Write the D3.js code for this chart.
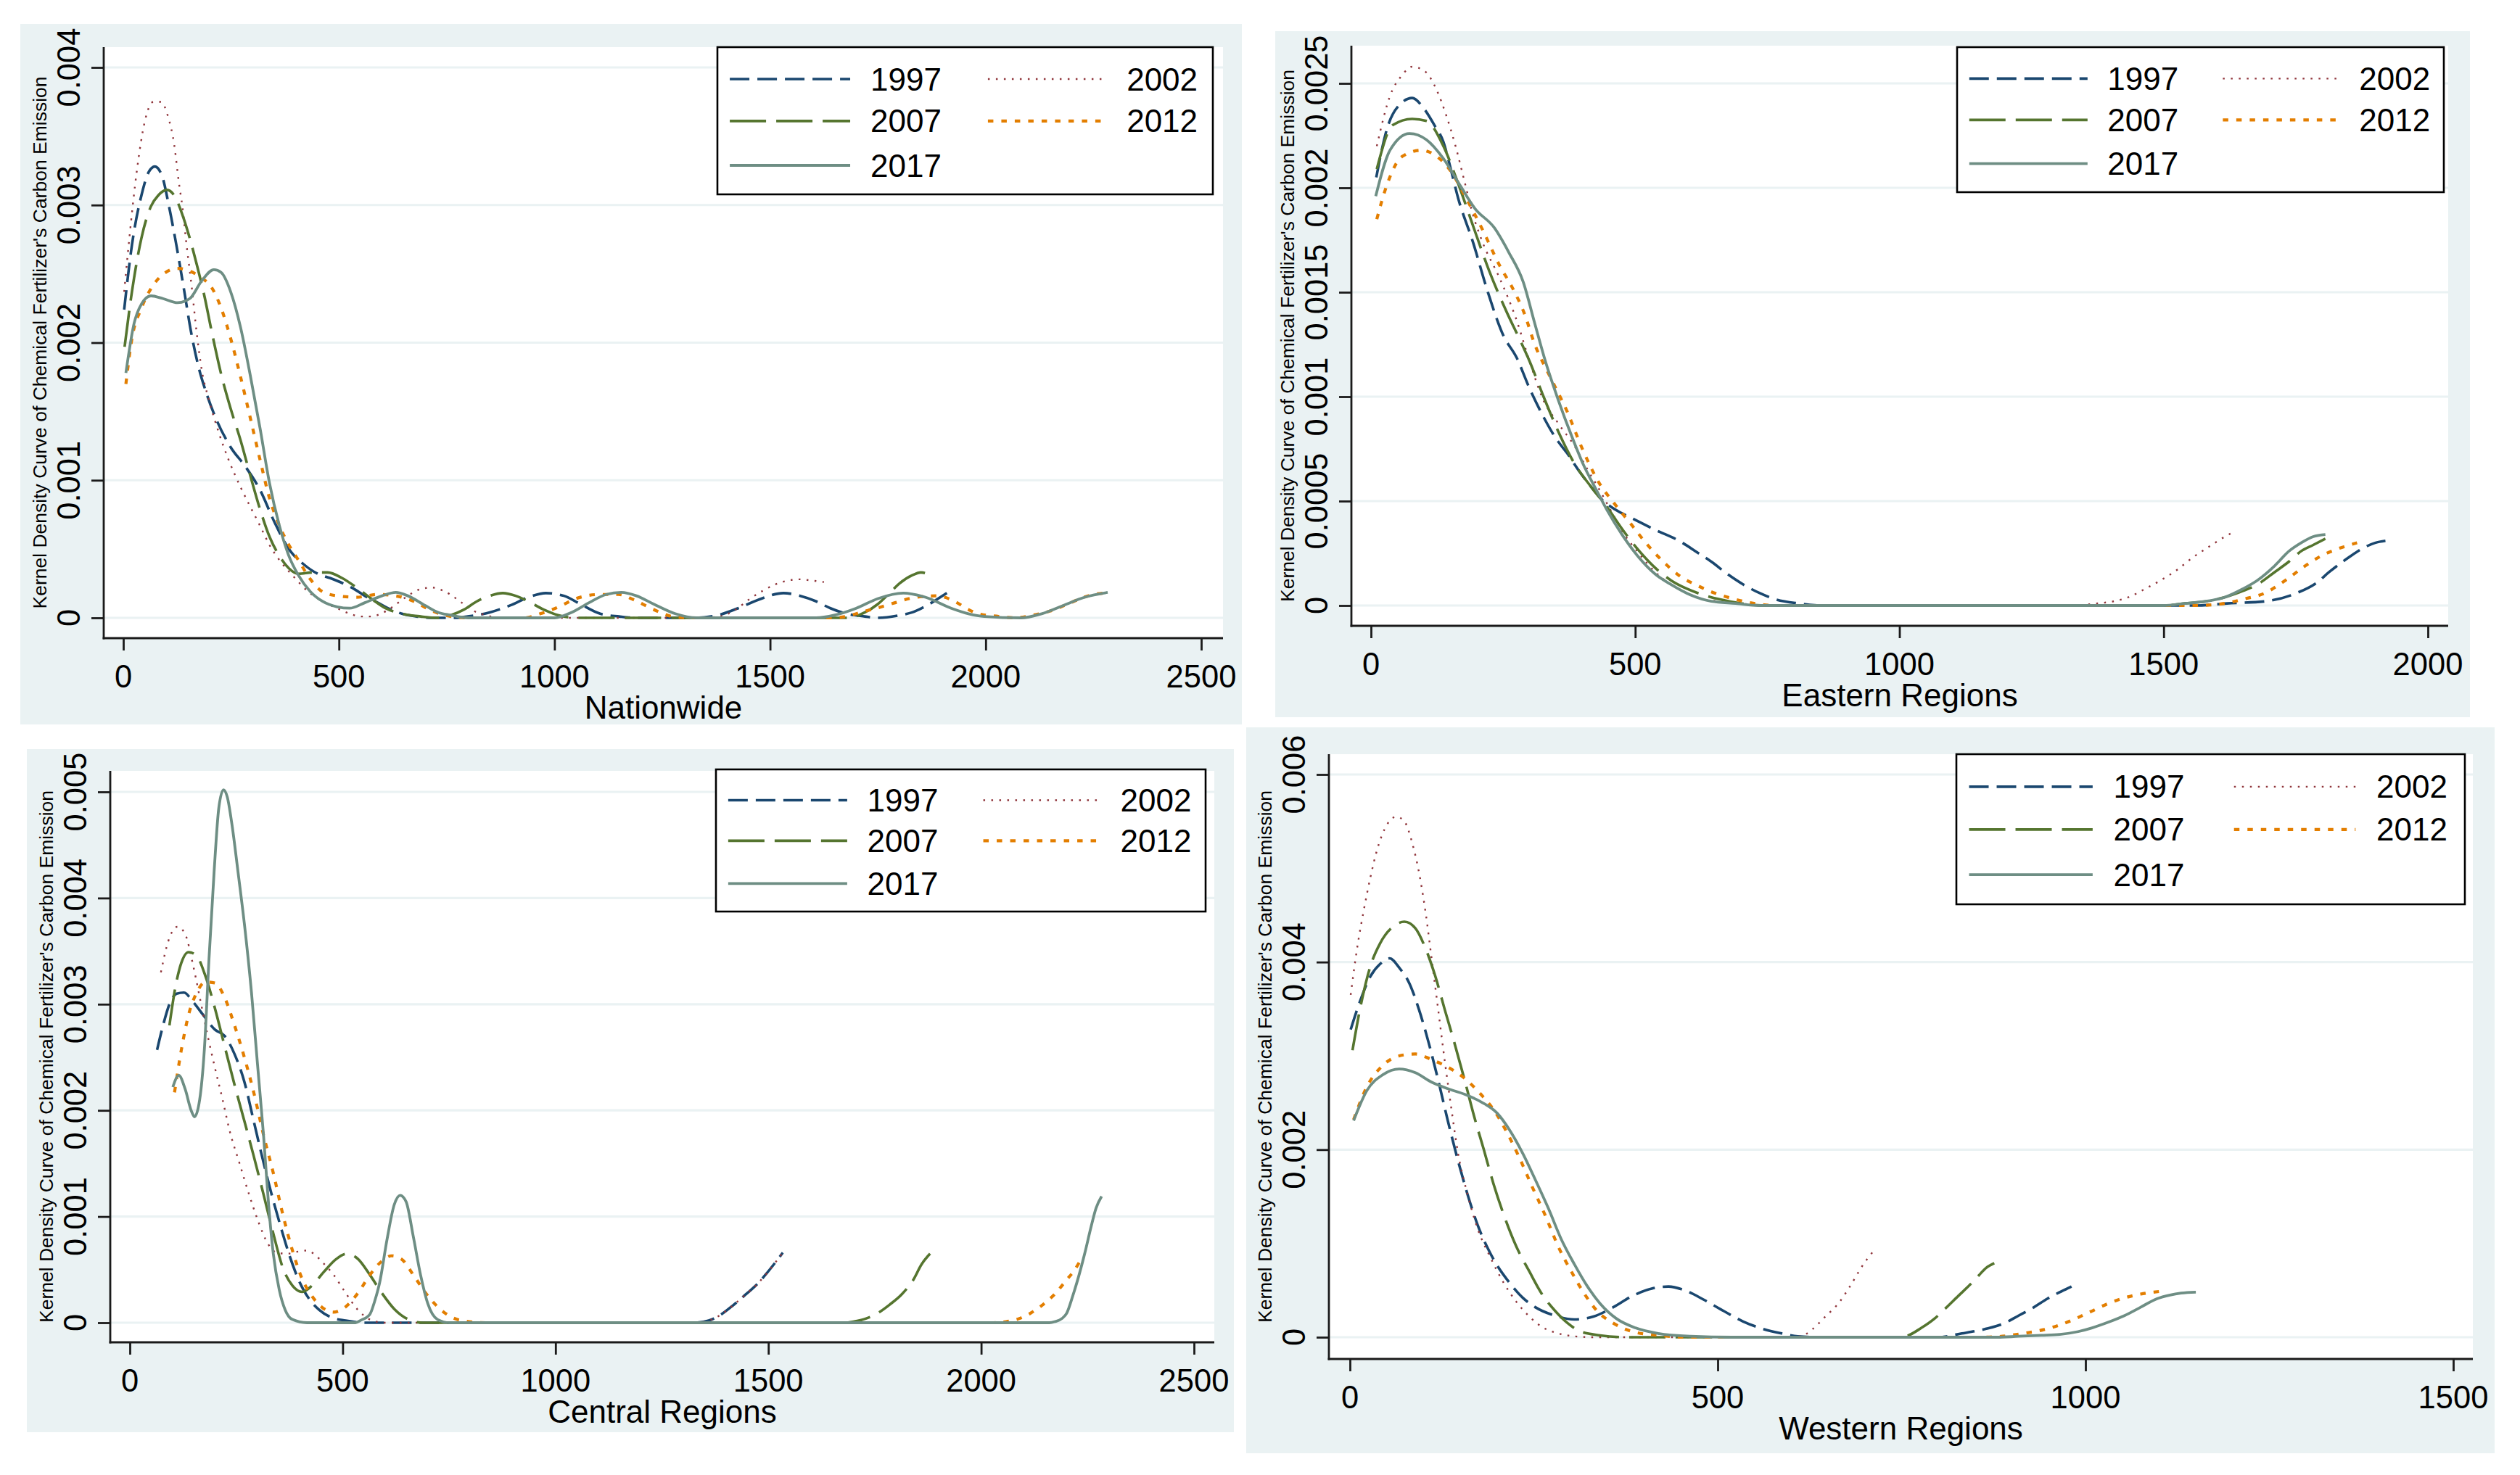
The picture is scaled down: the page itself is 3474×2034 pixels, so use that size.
<!DOCTYPE html>
<html>
<head>
<meta charset="utf-8">
<script src="https://cdn.jsdelivr.net/npm/d3@7/dist/d3.min.js"></script>
<style>
  html, body { margin: 0; padding: 0; background: #ffffff; }
  svg { display: block; }
  text { font-family: "Liberation Sans", Arial, Helvetica, sans-serif; fill: #000; }
</style>
</head>
<body>
<svg id="chart" width="3474" height="2034"></svg>
<script>
// ---------------- DATA ----------------
const years = ["1997", "2002", "2007", "2012", "2017"];
const yTitle = "Kernel Density Curve of Chemical Fertilizer's Carbon Emission";
const panelTitles = ["Nationwide", "Eastern Regions", "Central Regions", "Western Regions"];

const xTicksWide = [0, 500, 1000, 1500, 2000, 2500];
const xTicksEast = [0, 500, 1000, 1500, 2000];
const xTicksWest = [0, 500, 1000, 1500];
const yTicksNation = [0, 0.001, 0.002, 0.003, 0.004];
const yLabelsNation = ["0", "0.001", "0.002", "0.003", "0.004"];
const yTicksEast = [0, 0.0005, 0.001, 0.0015, 0.002, 0.0025];
const yLabelsEast = ["0", "0.0005", "0.001", "0.0015", "0.002", "0.0025"];
const yTicksCentral = [0, 0.001, 0.002, 0.003, 0.004, 0.005];
const yLabelsCentral = ["0", "0.001", "0.002", "0.003", "0.004", "0.005"];
const yTicksWest = [0, 0.002, 0.004, 0.006];
const yLabelsWest = ["0", "0.002", "0.004", "0.006"];

// Nationwide
const nation1997 = [[2,.00224],[20,.00271],[42,.00307],[59,.00324],[73,.00328],[90,.00321],[106,.00299],[123,.00271],[140,.0024],[157,.00208],[174,.00183],[193,.00163],[216,.00144],[249,.00124],[283,.0011],[317,.00093],[350,.0007],[384,.0005],[418,.00039],[451,.00032],[479,.00029],[510,.00025],[535,.00021],[560,.00016],[590,.00011],[620,.00006],[646,.00003],[680,.00001],[716,0],[770,0],[799,.00001],[850,.00004],[897,.00009],[940,.00015],[980,.00018],[1022,.00016],[1060,.0001],[1106,.00003],[1150,.00001],[1189,0],[1329,0],[1380,.00002],[1426,.00007],[1480,.00014],[1531,.00018],[1570,.00016],[1607,.00012],[1640,.00007],[1677,.00003],[1720,.00001],[1747,0],[1802,.00002],[1830,.00004],[1858,.00008],[1885,.00013],[1910,.00018]];
const nation2002 = [[2,.00237],[14,.00276],[31,.00324],[50,.00361],[70,.00375],[87,.00375],[104,.00364],[118,.00344],[129,.00316],[137,.00299],[147,.0027],[157,.00245],[171,.00205],[182,.0018],[199,.00158],[221,.00135],[244,.00115],[272,.00095],[294,.00081],[317,.00067],[339,.00053],[362,.00042],[395,.0003],[429,.00019],[462,.00012],[496,.00007],[525,.00003],[552,.00001],[575,.00001],[597,.00003],[620,.00007],[646,.00013],[670,.00018],[690,.00021],[716,.00022],[740,.0002],[758,.00017],[785,.00011],[813,.00005],[840,.00002],[870,0],[1340,0],[1384,.00001],[1420,.00006],[1454,.00014],[1485,.0002],[1510,.00024],[1540,.00027],[1566,.00028],[1600,.00027],[1625,.00026]];
const nation2007 = [[3,.00197],[20,.00237],[42,.00276],[64,.00299],[81,.00307],[101,.00311],[118,.00307],[137,.00293],[154,.00276],[171,.00256],[188,.00234],[205,.00208],[227,.00177],[249,.00152],[272,.00129],[294,.00104],[317,.00079],[339,.00059],[362,.00045],[384,.00036],[406,.00032],[440,.00033],[474,.00033],[507,.00029],[541,.00022],[575,.00014],[608,.00007],[646,.00003],[690,.00001],[730,0],[760,.00002],[790,.00006],[820,.00012],[850,.00016],[880,.00018],[910,.00016],[939,.00012],[975,.00006],[1008,.00002],[1050,0],[1680,0],[1720,.00004],[1750,.0001],[1774,.00017],[1800,.00025],[1830,.00031],[1850,.00033],[1872,.00031]];
const nation2012 = [[6,.0017],[20,.00203],[42,.00225],[70,.00242],[98,.00251],[126,.00254],[154,.00252],[182,.00247],[205,.0024],[227,.00225],[249,.00203],[272,.00175],[294,.00146],[317,.00115],[339,.00087],[362,.00067],[384,.00053],[406,.00042],[434,.00028],[462,.00019],[496,.00016],[541,.00015],[590,.00017],[631,.00016],[674,.00012],[710,.00006],[744,.00002],[800,0],[930,0],[967,.00003],[1010,.00008],[1050,.00014],[1106,.00017],[1148,.00017],[1185,.00013],[1217,.00008],[1245,.00004],[1273,.00001],[1320,0],[1640,0],[1677,.00001],[1710,.00004],[1747,.00007],[1790,.00011],[1830,.000145],[1886,.00016],[1928,.00012],[1960,.00006],[1983,.00003],[2030,.00001],[2067,0],[2110,.00002],[2150,.00005],[2190,.0001],[2220,.00014],[2250,.00017],[2276,.00018]];
const nation2017 = [[6,.00178],[25,.00214],[42,.00228],[64,.00234],[92,.00232],[126,.00229],[154,.00232],[182,.00245],[210,.00253],[227,.00251],[249,.00237],[272,.00211],[294,.00177],[317,.00138],[339,.00098],[362,.00067],[384,.00045],[406,.00031],[434,.00019],[462,.00012],[496,.00008],[525,.00007],[560,.00011],[600,.00016],[632,.000185],[660,.00016],[700,.00009],[730,.00004],[758,.00002],[800,0],[1000,0],[1040,.00004],[1080,.00011],[1120,.00017],[1155,.000185],[1190,.00016],[1230,.0001],[1280,.00003],[1329,0],[1607,0],[1650,.00002],[1700,.00007],[1750,.00014],[1809,.00018],[1860,.00015],[1920,.00007],[1960,.00003],[1997,.00001],[2081,0],[2130,.00003],[2180,.00009],[2230,.00015],[2283,.000185]];

// Eastern
const east1997 = [[10,.00205],[30,.00228],[55,.0024],[78,.00243],[100,.00238],[120,.0023],[137,.00222],[150,.0021],[165,.00195],[193,.00174],[220,.00151],[251,.00129],[275,.00119],[300,.00104],[325,.00091],[350,.0008],[371,.00073],[395,.00064],[416,.00057],[440,.0005],[462,.00046],[500,.00041],[540,.00036],[583,.00031],[620,.00025],[644,.00021],[675,.00015],[705,.0001],[735,.00006],[765,.00003],[810,.00001],[856,0],[1560,0],[1620,.00001],[1692,.00002],[1752,.00006],[1790,.00011],[1813,.00016],[1850,.00023],[1874,.00027],[1900,.0003],[1920,.00031]];
const east2002 = [[11,.0022],[36,.00244],[59,.00254],[78,.00258],[101,.00256],[124,.00247],[142,.00235],[160,.0022],[178,.00202],[192,.00188],[211,.00174],[243,.00157],[275,.00137],[300,.00117],[325,.00099],[355,.00087],[386,.00076],[410,.00065],[431,.00056],[455,.00045],[477,.00035],[507,.00025],[538,.00016],[568,.0001],[598,.00006],[630,.00003],[659,.00002],[700,.00001],[735,0],[1330,0],[1373,.00001],[1405,.00002],[1434,.00004],[1465,.00008],[1494,.00012],[1525,.00017],[1555,.00023],[1585,.00028],[1616,.00033],[1631,.00035]];
const east2007 = [[11,.00209],[41,.0023],[78,.00233],[105,.00232],[137,.0022],[165,.00202],[197,.00179],[224,.0016],[256,.00141],[284,.00126],[300,.00117],[325,.00101],[355,.00083],[385,.00068],[416,.00057],[447,.00047],[477,.00036],[508,.00026],[538,.00018],[568,.00012],[598,.00008],[630,.00005],[659,.00003],[700,.00001],[750,0],[1500,0],[1540,.00001],[1580,.00002],[1616,.00004],[1650,.00007],[1677,.0001],[1710,.00016],[1737,.00021],[1760,.00026],[1783,.00029],[1806,.00032]];
const east2012 = [[11,.00185],[31,.00202],[59,.00215],[96,.00218],[119,.00216],[151,.00208],[178,.00196],[211,.0018],[243,.00163],[270,.00151],[290,.0014],[310,.00125],[340,.00109],[371,.00093],[400,.00075],[431,.00059],[460,.00049],[492,.00039],[520,.0003],[553,.00021],[585,.00014],[614,.0001],[650,.00006],[689,.00003],[725,.00001],[765,0],[1560,0],[1616,.00001],[1650,.00003],[1692,.00006],[1730,.00012],[1768,.00019],[1800,.00024],[1828,.00027],[1866,.0003]];
const east2017 = [[9,.00196],[36,.00218],[73,.00226],[105,.00223],[137,.00214],[169,.00201],[197,.0019],[233,.00181],[261,.00169],[288,.00155],[310,.00135],[330,.00117],[355,.00098],[380,.00081],[401,.00068],[425,.00056],[446,.00046],[475,.00034],[507,.00023],[538,.00015],[568,.0001],[605,.00005],[644,.00002],[690,.00001],[735,0],[1500,0],[1540,.00001],[1580,.00002],[1616,.00004],[1650,.00008],[1677,.00012],[1710,.00019],[1737,.00026],[1760,.0003],[1783,.00033],[1806,.00034]];

// Central
const central1997 = [[64,.00257],[78,.0028],[93,.003],[110,.0031],[127,.00311],[147,.00303],[172,.0029],[200,.00276],[223,.0027],[246,.00253],[269,.00227],[291,.0019],[308,.00161],[331,.00124],[354,.00091],[377,.00061],[399,.00038],[422,.00022],[445,.00012],[473,.00005],[507,.00002],[553,0],[1330,0],[1360,.00002],[1390,.00008],[1416,.00016],[1445,.00026],[1473,.00036],[1495,.00046],[1515,.00056],[1534,.00066]];
const central2002 = [[73,.0033],[90,.00359],[112,.00373],[130,.00366],[149,.00336],[166,.00303],[183,.0027],[200,.0024],[218,.0021],[235,.0018],[257,.00151],[280,.00121],[303,.00094],[325,.00074],[345,.00066],[370,.00065],[395,.00067],[416,.00068],[435,.00064],[450,.00058],[479,.00045],[507,.00028],[536,.00012],[564,.00003],[598,0],[1330,0],[1360,.00002],[1390,.00008],[1416,.00016],[1445,.00026],[1473,.00036],[1495,.00046],[1515,.00056],[1534,.00066]];
const central2007 = [[93,.0028],[107,.00316],[121,.00339],[138,.00349],[156,.00346],[178,.00326],[200,.00296],[223,.0026],[246,.00224],[269,.0019],[291,.00157],[314,.00121],[337,.00084],[360,.00051],[382,.00035],[405,.00029],[428,.00035],[456,.00048],[485,.0006],[510,.00065],[536,.0006],[564,.00045],[592,.00028],[621,.00013],[655,.00003],[689,0],[1680,0],[1700,.00001],[1730,.00004],[1757,.00009],[1785,.00017],[1814,.00027],[1840,.0004],[1860,.00055],[1880,.00065]];
const central2012 = [[105,.00217],[121,.00257],[138,.0029],[156,.0031],[178,.00321],[200,.0032],[223,.00306],[246,.0028],[269,.0025],[291,.00217],[314,.00177],[337,.00141],[360,.00101],[382,.00068],[405,.00041],[428,.00025],[450,.00015],[479,.0001],[507,.00015],[536,.00028],[564,.00045],[592,.00058],[615,.00063],[638,.0006],[666,.00045],[695,.00028],[723,.00015],[757,.00005],[797,.00001],[837,0],[2030,0],[2059,.00001],[2090,.00004],[2116,.00009],[2145,.00017],[2173,.00027],[2200,.0004],[2220,.0005],[2239,.00063]];
const central2017 = [[101,.00222],[115,.00233],[130,.0022],[144,.002],[152,.00194],[164,.0021],[175,.00257],[186,.00343],[198,.00425],[209,.00485],[220,.00502],[229,.00495],[240,.00469],[254,.00425],[269,.00376],[286,.0031],[300,.00243],[314,.00177],[326,.00111],[337,.00065],[351,.00031],[365,.00012],[382,.00003],[416,0],[530,0],[541,.00002],[564,.00008],[575,.0002],[587,.00038],[604,.00078],[621,.00111],[635,.0012],[649,.00114],[666,.00081],[683,.00045],[700,.00018],[723,.00003],[751,0],[2160,0],[2173,.00001],[2190,.00004],[2201,.00009],[2215,.00025],[2230,.00045],[2245,.00068],[2258,.0009],[2270,.00108],[2283,.00119]];

// Western
const west1997 = [[1,.00328],[15,.00361],[28,.00385],[41,.00398],[54,.00404],[67,.00394],[81,.00377],[94,.00349],[107,.00314],[120,.00274],[133,.00231],[147,.00188],[160,.00152],[173,.00121],[186,.00097],[199,.00078],[217,.00058],[235,.00042],[252,.00032],[279,.00023],[305,.00019],[331,.00022],[358,.00032],[384,.00044],[411,.00052],[433,.00054],[455,.0005],[481,.0004],[508,.00028],[534,.00017],[561,.00009],[587,.00004],[609,.00001],[640,0],[799,0],[832,.00004],[865,.00009],[890,.00015],[909,.00023],[930,.00032],[948,.00041],[965,.00048],[981,.00054]];
const west2002 = [[1,.00365],[10,.00416],[19,.00456],[28,.00491],[37,.0052],[50,.00546],[63,.00555],[74,.0055],[85,.00526],[94,.00495],[103,.00452],[111,.00404],[120,.00349],[129,.00294],[138,.00243],[147,.00196],[160,.00152],[173,.00117],[191,.00085],[209,.00058],[226,.00038],[244,.00022],[261,.00011],[279,.00005],[305,.00001],[330,0],[590,0],[613,.00001],[628,.00008],[645,.00021],[666,.00038],[678,.00052],[700,.0008],[713,.00093]];
const west2007 = [[3.5,.00306],[14.5,.00353],[28,.00396],[41,.0042],[59,.00438],[74,.00443],[89,.00436],[102,.00416],[116,.00385],[129,.00349],[142,.00314],[156,.00274],[169,.00235],[182,.002],[195,.00164],[208,.00133],[226,.00097],[244,.0007],[261,.00046],[279,.00028],[296,.00015],[314,.00006],[340,.00002],[376,0],[740,0],[755,.00001],[777,.0001],[795,.0002],[810,.00031],[827,.00044],[843,.00056],[855,.00066],[865,.00074],[876,.00079]];
const west2012 = [[5,.00232],[23,.00267],[45,.0029],[67,.003],[89,.00302],[111,.00296],[133,.00288],[156,.00276],[178,.00259],[195,.00243],[213,.00219],[230,.00192],[248,.0016],[266,.00129],[283,.00097],[301,.0007],[319,.00046],[336,.00028],[358,.00015],[384,.00006],[419,.00002],[463,0],[860,0],[887,.00001],[915,.00004],[943,.00008],[965,.00013],[987,.0002],[1009,.00028],[1031,.00036],[1053,.00042],[1075,.00046],[1103,.00049]];
const west2017 = [[5,.00231],[23,.00263],[45,.0028],[67,.00286],[89,.00282],[111,.00272],[133,.00265],[156,.00259],[178,.00251],[200,.00239],[217,.00221],[235,.00196],[252,.00168],[270,.00137],[287,.00105],[305,.00078],[323,.00054],[340,.00036],[362,.0002],[388,.0001],[419,.00004],[463,.00001],[520,0],[880,0],[909,.00001],[940,.00002],[965,.00003],[990,.00006],[1009,.0001],[1031,.00016],[1053,.00023],[1075,.00032],[1097,.00041],[1115,.00045],[1130,.00047],[1150,.00048]];

// ---------------- STYLES ----------------
const seriesStyle = {
  "1997": { color: "#1a476f", width: 3.6, dash: "27,11" },
  "2002": { color: "#90353b", width: 2.4, dash: "2.5,8.5" },
  "2007": { color: "#55752f", width: 3.6, dash: "50,14" },
  "2012": { color: "#e37e00", width: 4.2, dash: "7.5,11" },
  "2017": { color: "#6e8e84", width: 3.8, dash: null }
};
const bgColor = "#eaf2f3";
const gridColor = "#eaf2f3";
const axisColor = "#1a1a1a";

// ---------------- LAYOUT ----------------
const panels = [
  { title: panelTitles[0], series: [nation1997, nation2002, nation2007, nation2012, nation2017],
    xTicks: xTicksWide, yTicks: yTicksNation, yLabels: yLabelsNation,
    bg: [28, 33, 1712, 999], plot: [143, 65, 1686, 880],
    xr: [170, 1656], yr: [852, 93], legend: [989, 65, 1672, 268] },
  { title: panelTitles[1], series: [east1997, east2002, east2007, east2012, east2017],
    xTicks: xTicksEast, yTicks: yTicksEast, yLabels: yLabelsEast,
    bg: [1758, 43, 3405, 989], plot: [1863, 63, 3375, 863],
    xr: [1890, 3347], yr: [835, 115], legend: [2698, 65, 3369, 265] },
  { title: panelTitles[2], series: [central1997, central2002, central2007, central2012, central2017],
    xTicks: xTicksWide, yTicks: yTicksCentral, yLabels: yLabelsCentral,
    bg: [37, 1033, 1701, 1975], plot: [152, 1063, 1674, 1851],
    xr: [179, 1646], yr: [1824, 1092], legend: [987, 1061, 1662, 1257] },
  { title: panelTitles[3], series: [west1997, west2002, west2007, west2012, west2017],
    xTicks: xTicksWest, yTicks: yTicksWest, yLabels: yLabelsWest,
    bg: [1718, 1003, 3439, 2004], plot: [1832, 1040, 3409, 1874],
    xr: [1861, 3382], yr: [1844, 1068], legend: [2697, 1040, 3398, 1247] }
];

const svg = d3.select("#chart");
svg.append("rect").attr("x", 0).attr("y", 0).attr("width", 3474).attr("height", 2034).attr("fill", "#ffffff");

const tickFont = 43.5;
const titleFont = 44;
const yTitleFont = 26.5;
const tickLen = 17;

function styleLine(sel, yr) {
  const s = seriesStyle[yr];
  sel.attr("fill", "none").attr("stroke", s.color).attr("stroke-width", s.width)
     .attr("stroke-linejoin", "round").attr("stroke-linecap", "butt");
  if (s.dash) sel.attr("stroke-dasharray", s.dash);
  return sel;
}

panels.forEach(p => {
  const g = svg.append("g");
  const [bx0, by0, bx1, by1] = p.bg;
  const [px0, py0, px1, py1] = p.plot;
  g.append("rect").attr("x", bx0).attr("y", by0).attr("width", bx1 - bx0).attr("height", by1 - by0).attr("fill", bgColor);
  g.append("rect").attr("x", px0).attr("y", py0).attr("width", px1 - px0).attr("height", py1 - py0).attr("fill", "#ffffff");

  const x = d3.scaleLinear().domain([p.xTicks[0], p.xTicks[p.xTicks.length - 1]]).range(p.xr);
  const y = d3.scaleLinear().domain([p.yTicks[0], p.yTicks[p.yTicks.length - 1]]).range(p.yr);

  // gridlines
  g.append("g").selectAll("line").data(p.yTicks).join("line")
    .attr("x1", px0).attr("x2", px1)
    .attr("y1", d => y(d)).attr("y2", d => y(d))
    .attr("stroke", gridColor).attr("stroke-width", 3.2);

  // curves
  const line = d3.line().x(d => x(d[0])).y(d => y(d[1])).curve(d3.curveMonotoneX);
  p.series.forEach((data, i) => {
    styleLine(g.append("path").datum(data).attr("d", line), years[i]);
  });

  // axes (ticks through d3 axes)
  const yAxis = d3.axisLeft(y).tickValues(p.yTicks).tickSize(tickLen).tickFormat("");
  const yg = g.append("g").attr("transform", `translate(${px0},0)`).call(yAxis);
  yg.select(".domain").remove();
  yg.selectAll(".tick line").attr("stroke", axisColor).attr("stroke-width", 2.8);

  const xAxis = d3.axisBottom(x).tickValues(p.xTicks).tickSize(tickLen).tickFormat("");
  const xg = g.append("g").attr("transform", `translate(0,${py1})`).call(xAxis);
  xg.select(".domain").remove();
  xg.selectAll(".tick line").attr("stroke", axisColor).attr("stroke-width", 2.8);

  g.append("line").attr("x1", px0).attr("x2", px0).attr("y1", py0).attr("y2", py1 + 1.4)
    .attr("stroke", axisColor).attr("stroke-width", 2.8);
  g.append("line").attr("x1", px0 - 1.4).attr("x2", px1).attr("y1", py1).attr("y2", py1)
    .attr("stroke", axisColor).attr("stroke-width", 2.8);

  // y tick labels (rotated)
  g.append("g").selectAll("text").data(p.yTicks).join("text")
    .attr("transform", (d) => `translate(${px0 - 33},${y(d)}) rotate(-90)`)
    .attr("text-anchor", "middle").attr("font-size", tickFont)
    .text((d, i) => p.yLabels[i]);

  // x tick labels
  g.append("g").selectAll("text").data(p.xTicks).join("text")
    .attr("x", d => x(d)).attr("y", py1 + 68)
    .attr("text-anchor", "middle").attr("font-size", tickFont)
    .text(d => String(d));

  // axis titles
  g.append("text").attr("x", (px0 + px1) / 2).attr("y", py1 + 111)
    .attr("text-anchor", "middle").attr("font-size", titleFont).text(p.title);
  g.append("text")
    .attr("transform", `translate(${px0 - 79},${(py0 + py1) / 2}) rotate(-90)`)
    .attr("text-anchor", "middle").attr("font-size", yTitleFont).text(yTitle);

  // legend
  const [lx0, ly0, lx1, ly1] = p.legend;
  const lw = lx1 - lx0, lh = ly1 - ly0;
  const lg = g.append("g");
  lg.append("rect").attr("x", lx0).attr("y", ly0).attr("width", lw).attr("height", lh)
    .attr("fill", "#ffffff").attr("stroke", "#000").attr("stroke-width", 2.6);
  const rows = [0.217, 0.502, 0.803];
  const cols = [{ k0: 0.025, k1: 0.268, t: 0.309 }, { k0: 0.546, k1: 0.785, t: 0.826 }];
  years.forEach((yr, i) => {
    const r = Math.floor(i / 2), c = i % 2;
    const cy = ly0 + rows[r] * lh;
    styleLine(lg.append("line")
      .attr("x1", lx0 + cols[c].k0 * lw).attr("x2", lx0 + cols[c].k1 * lw)
      .attr("y1", cy).attr("y2", cy), yr);
    lg.append("text").attr("x", lx0 + cols[c].t * lw).attr("y", cy + 15.5)
      .attr("font-size", titleFont).text(yr);
  });
});
</script>
</body>
</html>
